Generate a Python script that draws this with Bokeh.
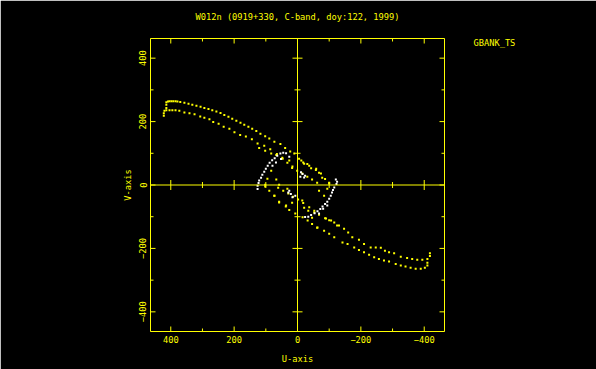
import math
from bokeh.plotting import figure
from bokeh.models import Range1d, Span, LinearAxis, FixedTicker
from bokeh.embed import file_html
from bokeh.resources import INLINE

title_text = "W012n (0919+330, C-band, doy:122, 1999)"
station_text = "GBANK_TS"
x_label = "U-axis"
y_label = "V-axis"

x_major = [400, 200, 0, -200, -400]
x_minor = [300, 100, -100, -300]
y_major = [400, 200, 0, -200, -400]
y_minor = [300, 100, -100, -300]

# yellow track, upper-left outer arc
ya_u = [414, 414, 414, 409, 404, 398, 392, 385, 379, 370, 357, 344, 332, 319, 306, 294, 281, 269, 256, 243,
        231, 218, 206, 193, 180, 168, 155, 143, 130, 117, 102, 89, 73, 54, 39, 23, 10, -5, -18, -31, -43, -58,
        -74, -87, -100]
ya_v = [243, 253, 261, 263, 264, 264, 264, 264, 263, 262, 259, 256, 253, 250, 247, 243, 240, 236, 232, 227,
        221, 215, 209, 203, 196, 190, 184, 177, 170, 162, 154, 147, 136, 129, 117, 106, 99, 83, 71, 66, 53, 47,
        36, 19, 5]
# yellow track, upper-left inner arc
yb_u = [422, 422, 420, 414, 404, 395, 385, 373, 357, 341, 325, 307, 294, 278, 266, 249, 233, 215, 199, 181,
        163, 144, 126, 105, 86, 65, 47, 32, 16, 1, -15, -31, -46, -62]
yb_v = [218, 226, 234, 236, 236, 236, 236, 234, 229, 226, 223, 216, 212, 207, 199, 193, 184, 177, 166, 158,
        153, 144, 131, 124, 113, 98, 83, 70, 58, 45, 36, 26, 17, 7]
# yellow track, lower-right outer arc
yc_u = [102, 89, 73, 58, 37, 26, 7, -16, -32, -46, -63, -84, -100, -116, -142, -158, -179, -194, -210, -226,
        -242, -257, -273, -289, -310, -326, -341, -357, -373, -389, -402, -410, -410]
yc_v = [-5, -18, -34, -55, -68, -79, -90, -102, -112, -123, -134, -144, -154, -165, -181, -186, -197, -205,
        -212, -220, -228, -233, -238, -241, -249, -254, -257, -261, -264, -264, -261, -254, -245]
# yellow track, lower-right inner arc
yd_u = [61, 45, 29, 14, -2, -18, -37, -53, -68, -87, -100, -116, -131, -147, -160, -173, -194, -210, -231,
        -247, -263, -276, -289, -305, -326, -346, -362, -378, -394, -410, -418, -418]
yd_v = [-9, -18, -27, -37, -46, -57, -70, -81, -94, -105, -111, -118, -128, -138, -150, -165, -173, -186,
        -197, -197, -198, -207, -212, -215, -226, -230, -233, -236, -236, -233, -224, -215]
# yellow scattered inner points
ye_u = [121, 102, 83, 67, 48, 26, 17, 83, 95, 67, 102, 58, 32, 73, 58, 36, 17, -15, -21, -34, -53, -46, -62,
        -90, -106, -125, -12, -21, -37, -59, -68, -78, -100, -94, -68, -84]
ye_v = [117, 108, 99, 95, 86, 77, 54, 45, 20, 17, 1, 1, -12, -34, -53, -65, -56, -49, -72, -81, -87, -103,
        -135, -106, -112, -128, 77, 67, 61, 51, 39, 23, 7, -12, -18, -34]

# white tracks
w_u = [126, 126, 123, 121, 115, 111, 105, 100, 94, 88, 80, 72, 64, 54, 45, 36, 68, 52, 79, 26,
       -11, -16, -21, -9, -24,
       26, 21, 16, 7, 29,
       -125, -123, -116, -112, -109, -105, -100, -94, -87, -79, -72, -63, -54, -43, -34, -24, -68, -81, -94, -121]
w_v = [-13, -2, 6, 14, 23, 32, 42, 51, 61, 70, 78, 84, 92, 99, 102, 100, 71, 82, 61, 89,
       40, 35, 24, 26, 29,
       -18, -28, -39, -34, -24,
       10, 3, -8, -16, -24, -34, -43, -53, -60, -68, -76, -83, -89, -95, -100, -101, -90, -75, -65, 17]

XMIN, XMAX = 464, -464
YMIN, YMAX = -462, 462
FW, FH = 294, 293
YELLOW = "#ffff00"
FONT = "DejaVu Sans Mono"
FS = "8.7px"

p = figure(frame_width=FW, frame_height=FH, min_border_left=150, min_border_right=152,
           min_border_top=38, min_border_bottom=38,
           x_range=Range1d(XMIN, XMAX), y_range=Range1d(YMIN, YMAX),
           x_axis_location=None, y_axis_location=None, title=None,
           toolbar_location=None, output_backend="svg",
           background_fill_color="black", border_fill_color="black")
p.grid.visible = False
p.outline_line_color = YELLOW
p.outline_line_width = 1

ux = abs(XMAX - XMIN) / FW
uy = abs(YMAX - YMIN) / FH


def style_axis(ax):
    ax.axis_line_color = None
    ax.major_tick_in = 0
    ax.major_tick_out = 0
    ax.minor_tick_in = 0
    ax.minor_tick_out = 0
    ax.major_label_text_color = YELLOW
    ax.major_label_text_font = FONT
    ax.major_label_text_font_size = FS
    ax.axis_label_text_color = YELLOW
    ax.axis_label_text_font = FONT
    ax.axis_label_text_font_size = FS
    ax.axis_label_text_font_style = "normal"


# title, carried by a label-only axis above the frame
tax = LinearAxis(ticker=FixedTicker(ticks=[]), axis_label=title_text)
style_axis(tax)
tax.major_label_standoff = 0
tax.axis_label_standoff = 17
p.add_layout(tax, "above")

xax = LinearAxis(ticker=FixedTicker(ticks=x_major), axis_label=x_label)
style_axis(xax)
xax.major_label_standoff = 4
xax.axis_label_standoff = 8
p.add_layout(xax, "below")

yax = LinearAxis(ticker=FixedTicker(ticks=y_major), axis_label=y_label)
style_axis(yax)
yax.major_label_orientation = "vertical"
yax.major_label_standoff = 4
yax.axis_label_standoff = 4
p.add_layout(yax, "left")

# station name, shown beside the top right corner of the frame
station_v = YMAX - 4 * uy
rax = LinearAxis(ticker=FixedTicker(ticks=[station_v]),
                 major_label_overrides={station_v: station_text})
style_axis(rax)
rax.major_label_standoff = 29
p.add_layout(rax, "right")

# crosshair
p.add_layout(Span(location=0, dimension="height", line_color=YELLOW, line_width=1))
p.add_layout(Span(location=0, dimension="width", line_color=YELLOW, line_width=1))

# tick marks (lengths in pixels converted to data units)
x0, y0, x1, y1 = [], [], [], []
for ticks, plen in ((x_major, 5), (x_minor, 3)):
    for t in ticks:
        x0 += [t, t]; x1 += [t, t]
        y0 += [YMIN, YMAX]; y1 += [YMIN + plen * uy, YMAX - plen * uy]
        if t != 0:
            x0.append(t); x1.append(t); y0.append(-plen * uy); y1.append(plen * uy)
for ticks, plen in ((y_major, 5), (y_minor, 3)):
    for t in ticks:
        y0 += [t, t]; y1 += [t, t]
        x0 += [XMIN, XMAX]; x1 += [XMIN - plen * ux, XMAX + plen * ux]
        if t != 0:
            y0.append(t); y1.append(t); x0.append(-plen * ux); x1.append(plen * ux)
p.segment(x0=x0, y0=y0, x1=x1, y1=y1, line_color=YELLOW, line_width=1)

# data points
for uu, vv in ((ya_u, ya_v), (yb_u, yb_v), (yc_u, yc_v), (yd_u, yd_v), (ye_u, ye_v)):
    p.scatter(x=uu, y=vv, marker="square", size=2, fill_color=YELLOW, line_color=None)
p.scatter(x=w_u, y=w_v, marker="square", size=2, fill_color="white", line_color=None)

open("out.html", "w").write(file_html(p, INLINE))
